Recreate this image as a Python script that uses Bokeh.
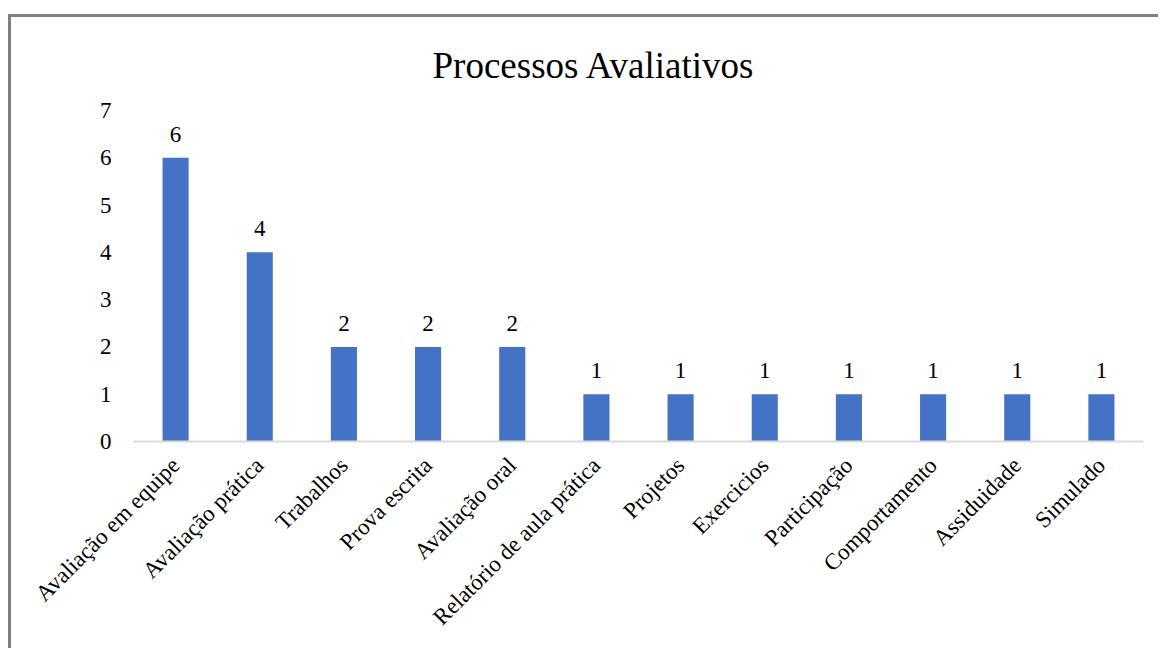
from math import pi
from bokeh.plotting import figure
from bokeh.models import ColumnDataSource, LabelSet, Range1d, FixedTicker
from bokeh.embed import file_html
from bokeh.resources import INLINE

categories = ["Avaliação em equipe", "Avaliação prática", "Trabalhos", "Prova escrita",
              "Avaliação oral", "Relatório de aula prática", "Projetos", "Exercicios",
              "Participação", "Comportamento", "Assiduidade", "Simulado"]
values = [6, 4, 2, 2, 2, 1, 1, 1, 1, 1, 1, 1]
y_ticks = [0, 1, 2, 3, 4, 5, 6, 7]

FONT = "Liberation Serif"
source = ColumnDataSource(dict(cat=categories, val=values, lab=[str(v) for v in values]))

p = figure(x_range=categories, y_range=Range1d(0, 7), width=1150, height=634,
           output_backend="svg", toolbar_location=None,
           min_border_left=122, min_border_right=18, min_border_top=93, min_border_bottom=210)
p.styles = {"border-top": "3px solid #808080", "border-left": "3px solid #808080",
            "margin-left": "8px", "margin-top": "14px"}

p.vbar(x="cat", top="val", width=0.31, source=source, fill_color="#4472C4", line_color=None)

labels = LabelSet(x="cat", y="val", text="lab", source=source, text_align="center",
                  text_baseline="bottom", y_offset=16, text_font=FONT,
                  text_font_size="23px", text_color="#000000")
p.add_layout(labels)

p.title.text = "Processos Avaliativos"
p.title.align = "left"
p.title.offset = 299
p.title.text_font = FONT
p.title.text_font_size = "37px"
p.title.text_font_style = "normal"
p.title.text_color = "#000000"
p.title.standoff = 50

p.xgrid.visible = False
p.ygrid.visible = False
p.outline_line_color = None

p.yaxis.ticker = FixedTicker(ticks=y_ticks)
p.yaxis.axis_line_color = None
p.yaxis.major_tick_line_color = None
p.yaxis.minor_tick_line_color = None
p.yaxis.major_label_text_font = FONT
p.yaxis.major_label_text_font_size = "23px"
p.yaxis.major_label_text_color = "#000000"
p.yaxis.major_label_standoff = 16

p.xaxis.axis_line_color = "#D9D9D9"
p.xaxis.axis_line_width = 2
p.xaxis.major_tick_line_color = None
p.xaxis.minor_tick_line_color = None
p.xaxis.major_label_orientation = pi / 4
p.xaxis.major_label_text_font = FONT
p.xaxis.major_label_text_font_size = "23px"
p.xaxis.major_label_text_color = "#000000"
p.xaxis.major_label_standoff = 14
p.x_range.range_padding = 0

open("out.html", "w").write(file_html(p, INLINE))
